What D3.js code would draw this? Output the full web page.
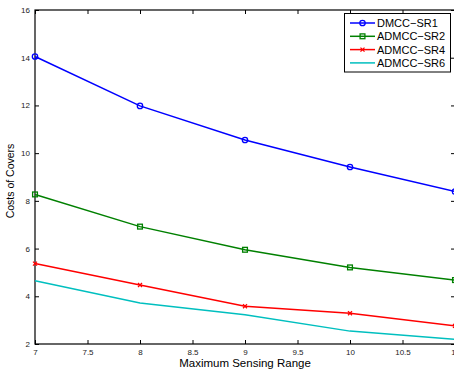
<!DOCTYPE html>
<html>
<head>
<meta charset="utf-8">
<script src="https://cdn.jsdelivr.net/npm/d3@7"></script>
<style>
body { margin: 0; background: #fff; }
text { font-family: "Liberation Sans", Arial, sans-serif; }
</style>
</head>
<body>
<svg width="454" height="371"></svg>
<script>
var ranges = [7, 8, 9, 10, 11];
var dmccSR1 = [14.05, 11.98, 10.55, 9.42, 8.39];
var admccSR2 = [8.27, 6.92, 5.95, 5.21, 4.68];
var admccSR4 = [5.37, 4.47, 3.58, 3.29, 2.76];
var admccSR6 = [4.65, 3.72, 3.23, 2.54, 2.2];
var xTicks = [7, 7.5, 8, 8.5, 9, 9.5, 10, 10.5, 11];
var yTicks = [2, 4, 6, 8, 10, 12, 14, 16];

var series = [
  {name: "DMCC\u2212SR1", values: dmccSR1, color: "#0000ff", marker: "circle"},
  {name: "ADMCC\u2212SR2", values: admccSR2, color: "#008000", marker: "square"},
  {name: "ADMCC\u2212SR4", values: admccSR4, color: "#ff0000", marker: "x"},
  {name: "ADMCC\u2212SR6", values: admccSR6, color: "#00bfbf", marker: "none"}
];

var svg = d3.select("svg"),
  plotL = 35, plotR = 455, plotT = 10, plotB = 344;

var x = d3.scaleLinear().domain([7, 11]).range([plotL, plotR]);
var y = d3.scaleLinear().domain([2, 16]).range([plotB, plotT]);

// axes, MATLAB style ticks pointing in
svg.append("g").attr("transform", "translate(0," + plotB + ")")
  .call(d3.axisBottom(x).tickValues(xTicks).tickSize(-4).tickPadding(5).tickFormat(d3.format("")))
  .call(function(g) { g.select(".domain").remove(); });
svg.append("g").attr("transform", "translate(0," + plotT + ")")
  .call(d3.axisTop(x).tickValues(xTicks).tickSize(-4).tickFormat(""))
  .call(function(g) { g.select(".domain").remove(); });
svg.append("g").attr("transform", "translate(" + plotL + ",0)")
  .call(d3.axisLeft(y).tickValues(yTicks).tickSize(-4).tickPadding(5))
  .call(function(g) { g.select(".domain").remove(); });
svg.append("g").attr("transform", "translate(" + plotR + ",0)")
  .call(d3.axisRight(y).tickValues(yTicks).tickSize(-4).tickFormat(""))
  .call(function(g) { g.select(".domain").remove(); });

svg.selectAll(".tick line").attr("stroke", "#000");
svg.selectAll(".tick text").attr("font-size", 8).attr("fill", "#222")
  .style("font-family", "'Liberation Sans', Arial, sans-serif");

svg.append("rect").attr("x", plotL).attr("y", plotT)
  .attr("width", plotR - plotL).attr("height", plotB - plotT)
  .attr("fill", "none").attr("stroke", "#000").attr("stroke-width", 1.2);

var line = d3.line().x(function(d, i) { return x(ranges[i]); }).y(function(d) { return y(d); });

function drawMarker(g, type, color, cx, cy) {
  if (type === "circle") {
    g.append("circle").attr("cx", cx).attr("cy", cy).attr("r", 2.7)
      .attr("fill", "none").attr("stroke", color).attr("stroke-width", 1.3);
  } else if (type === "square") {
    g.append("rect").attr("x", cx - 2.4).attr("y", cy - 2.4).attr("width", 4.8).attr("height", 4.8)
      .attr("fill", "none").attr("stroke", color).attr("stroke-width", 1.3);
  } else if (type === "x") {
    g.append("path").attr("d", "M" + (cx - 2) + "," + (cy - 2) + "L" + (cx + 2) + "," + (cy + 2) +
      "M" + (cx - 2) + "," + (cy + 2) + "L" + (cx + 2) + "," + (cy - 2))
      .attr("stroke", color).attr("stroke-width", 1.3);
  }
}

series.forEach(function(s) {
  var g = svg.append("g");
  g.append("path").datum(s.values).attr("d", line)
    .attr("fill", "none").attr("stroke", s.color).attr("stroke-width", 1.5);
  s.values.forEach(function(v, i) { drawMarker(g, s.marker, s.color, x(ranges[i]), y(v)); });
});

// legend
var lg = svg.append("g");
lg.append("rect").attr("x", 344.5).attr("y", 13.5).attr("width", 106).attr("height", 58.5)
  .attr("fill", "#fff").attr("stroke", "#000").attr("stroke-width", 1);
series.forEach(function(s, i) {
  var ly = 23 + i * 13.3;
  lg.append("line").attr("x1", 350).attr("x2", 375).attr("y1", ly).attr("y2", ly)
    .attr("stroke", s.color).attr("stroke-width", 1.5);
  drawMarker(lg, s.marker, s.color, 362.5, ly);
  lg.append("text").attr("x", 377).attr("y", ly + 4).attr("font-size", 11).text(s.name);
});

svg.append("text").attr("x", 245).attr("y", 367).attr("text-anchor", "middle")
  .attr("font-size", 11.5).text("Maximum Sensing Range");
svg.append("text").attr("transform", "translate(14,181) rotate(-90)")
  .attr("text-anchor", "middle").attr("font-size", 10.5).text("Costs of Covers");
</script>
</body>
</html>
